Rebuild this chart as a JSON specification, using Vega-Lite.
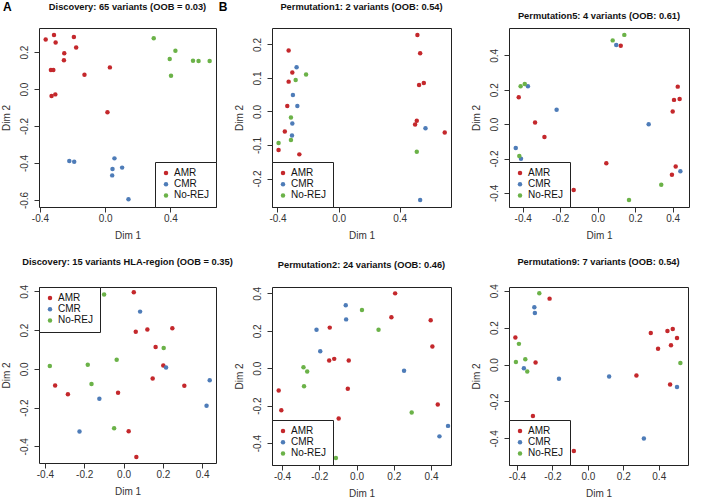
{
  "$schema": "https://vega.github.io/schema/vega-lite/v6.json",
  "autosize": {"type": "pad"},
  "padding": {"left": 0, "top": 0, "right": 0, "bottom": 0},
  "background": "white",
  "datasets": {
    "p1": [
      {"x": -0.365, "y": 0.268, "g": "AMR"}, {"x": -0.314, "y": 0.292, "g": "AMR"}, {"x": -0.304, "y": 0.252, "g": "AMR"},
      {"x": -0.192, "y": 0.281, "g": "AMR"}, {"x": -0.178, "y": 0.225, "g": "AMR"}, {"x": -0.251, "y": 0.193, "g": "AMR"},
      {"x": -0.253, "y": 0.155, "g": "AMR"}, {"x": -0.333, "y": 0.103, "g": "AMR"}, {"x": -0.318, "y": 0.103, "g": "AMR"},
      {"x": -0.127, "y": 0.077, "g": "AMR"}, {"x": 0.029, "y": 0.117, "g": "AMR"}, {"x": -0.329, "y": -0.038, "g": "AMR"},
      {"x": -0.306, "y": -0.029, "g": "AMR"}, {"x": 0.014, "y": -0.126, "g": "AMR"},
      {"x": -0.22, "y": -0.389, "g": "CMR"}, {"x": -0.19, "y": -0.393, "g": "CMR"}, {"x": 0.057, "y": -0.375, "g": "CMR"},
      {"x": 0.045, "y": -0.432, "g": "CMR"}, {"x": 0.104, "y": -0.425, "g": "CMR"}, {"x": 0.043, "y": -0.467, "g": "CMR"},
      {"x": 0.143, "y": -0.596, "g": "CMR"},
      {"x": 0.298, "y": 0.274, "g": "No-REJ"}, {"x": 0.431, "y": 0.207, "g": "No-REJ"}, {"x": 0.396, "y": 0.162, "g": "No-REJ"},
      {"x": 0.404, "y": 0.072, "g": "No-REJ"}, {"x": 0.539, "y": 0.153, "g": "No-REJ"}, {"x": 0.573, "y": 0.151, "g": "No-REJ"},
      {"x": 0.641, "y": 0.151, "g": "No-REJ"}
    ],
    "p2": [
      {"x": -0.327, "y": 0.182, "g": "AMR"}, {"x": -0.303, "y": 0.116, "g": "AMR"}, {"x": -0.327, "y": 0.089, "g": "AMR"},
      {"x": -0.336, "y": 0.016, "g": "AMR"}, {"x": -0.352, "y": -0.06, "g": "AMR"}, {"x": -0.393, "y": -0.115, "g": "AMR"},
      {"x": -0.257, "y": -0.128, "g": "AMR"}, {"x": 0.516, "y": 0.228, "g": "AMR"}, {"x": 0.534, "y": 0.174, "g": "AMR"},
      {"x": 0.527, "y": 0.079, "g": "AMR"}, {"x": 0.558, "y": 0.085, "g": "AMR"}, {"x": 0.512, "y": -0.028, "g": "AMR"},
      {"x": 0.501, "y": -0.039, "g": "AMR"}, {"x": 0.695, "y": -0.063, "g": "AMR"},
      {"x": -0.275, "y": 0.132, "g": "CMR"}, {"x": -0.299, "y": 0.049, "g": "CMR"}, {"x": -0.27, "y": 0.016, "g": "CMR"},
      {"x": -0.303, "y": -0.036, "g": "CMR"}, {"x": -0.305, "y": -0.072, "g": "CMR"}, {"x": 0.569, "y": -0.05, "g": "CMR"},
      {"x": 0.534, "y": -0.264, "g": "CMR"},
      {"x": -0.213, "y": 0.11, "g": "No-REJ"}, {"x": -0.281, "y": 0.094, "g": "No-REJ"}, {"x": -0.312, "y": -0.018, "g": "No-REJ"},
      {"x": -0.312, "y": -0.085, "g": "No-REJ"}, {"x": -0.393, "y": -0.094, "g": "No-REJ"}, {"x": 0.512, "y": -0.12, "g": "No-REJ"}
    ],
    "p3": [
      {"x": 0.123, "y": 0.456, "g": "AMR"}, {"x": -0.421, "y": 0.156, "g": "AMR"}, {"x": -0.334, "y": 0.01, "g": "AMR"},
      {"x": -0.284, "y": -0.075, "g": "AMR"}, {"x": 0.046, "y": -0.228, "g": "AMR"}, {"x": -0.128, "y": -0.383, "g": "AMR"},
      {"x": 0.427, "y": 0.218, "g": "AMR"}, {"x": 0.407, "y": 0.141, "g": "AMR"}, {"x": 0.437, "y": 0.146, "g": "AMR"},
      {"x": 0.4, "y": 0.073, "g": "AMR"}, {"x": 0.416, "y": -0.247, "g": "AMR"}, {"x": 0.396, "y": -0.295, "g": "AMR"},
      {"x": 0.099, "y": 0.46, "g": "CMR"}, {"x": -0.372, "y": 0.22, "g": "CMR"}, {"x": -0.219, "y": 0.084, "g": "CMR"},
      {"x": -0.437, "y": -0.139, "g": "CMR"}, {"x": -0.409, "y": -0.201, "g": "CMR"}, {"x": 0.272, "y": -0.001, "g": "CMR"},
      {"x": 0.441, "y": -0.274, "g": "CMR"},
      {"x": 0.08, "y": 0.487, "g": "No-REJ"}, {"x": 0.142, "y": 0.519, "g": "No-REJ"}, {"x": -0.411, "y": 0.22, "g": "No-REJ"},
      {"x": -0.389, "y": 0.233, "g": "No-REJ"}, {"x": -0.418, "y": -0.185, "g": "No-REJ"}, {"x": 0.339, "y": -0.353, "g": "No-REJ"},
      {"x": 0.167, "y": -0.441, "g": "No-REJ"}
    ],
    "p4": [
      {"x": 0.052, "y": 0.395, "g": "AMR"}, {"x": 0.062, "y": 0.191, "g": "AMR"}, {"x": 0.121, "y": 0.203, "g": "AMR"},
      {"x": 0.248, "y": 0.209, "g": "AMR"}, {"x": 0.163, "y": 0.112, "g": "AMR"}, {"x": 0.202, "y": 0.017, "g": "AMR"},
      {"x": 0.148, "y": -0.05, "g": "AMR"}, {"x": 0.309, "y": -0.088, "g": "AMR"}, {"x": -0.348, "y": -0.086, "g": "AMR"},
      {"x": -0.283, "y": -0.131, "g": "AMR"}, {"x": -0.028, "y": -0.124, "g": "AMR"}, {"x": 0.026, "y": -0.322, "g": "AMR"},
      {"x": 0.065, "y": -0.455, "g": "AMR"},
      {"x": 0.084, "y": 0.295, "g": "CMR"}, {"x": 0.216, "y": 0.007, "g": "CMR"}, {"x": 0.438, "y": -0.059, "g": "CMR"},
      {"x": 0.422, "y": -0.191, "g": "CMR"}, {"x": -0.123, "y": -0.155, "g": "CMR"}, {"x": -0.224, "y": -0.324, "g": "CMR"},
      {"x": -0.099, "y": 0.383, "g": "No-REJ"}, {"x": 0.204, "y": 0.107, "g": "No-REJ"}, {"x": -0.375, "y": 0.014, "g": "No-REJ"},
      {"x": -0.182, "y": 0.021, "g": "No-REJ"}, {"x": -0.035, "y": 0.047, "g": "No-REJ"}, {"x": -0.163, "y": -0.078, "g": "No-REJ"},
      {"x": -0.048, "y": -0.307, "g": "No-REJ"}
    ],
    "p5": [
      {"x": 0.207, "y": 0.4, "g": "AMR"}, {"x": 0.187, "y": 0.272, "g": "AMR"}, {"x": 0.398, "y": 0.256, "g": "AMR"},
      {"x": 0.407, "y": 0.116, "g": "AMR"}, {"x": -0.144, "y": 0.217, "g": "AMR"}, {"x": -0.147, "y": 0.041, "g": "AMR"},
      {"x": -0.12, "y": 0.05, "g": "AMR"}, {"x": -0.042, "y": 0.041, "g": "AMR"}, {"x": -0.047, "y": -0.11, "g": "AMR"},
      {"x": -0.418, "y": -0.119, "g": "AMR"}, {"x": -0.404, "y": -0.224, "g": "AMR"}, {"x": -0.096, "y": -0.268, "g": "AMR"},
      {"x": -0.133, "y": -0.316, "g": "AMR"}, {"x": 0.436, "y": -0.194, "g": "AMR"},
      {"x": -0.058, "y": 0.336, "g": "CMR"}, {"x": -0.056, "y": 0.261, "g": "CMR"}, {"x": -0.215, "y": 0.206, "g": "CMR"},
      {"x": -0.195, "y": 0.091, "g": "CMR"}, {"x": 0.255, "y": -0.014, "g": "CMR"}, {"x": 0.445, "y": -0.364, "g": "CMR"},
      {"x": 0.491, "y": -0.308, "g": "CMR"},
      {"x": 0.029, "y": 0.311, "g": "No-REJ"}, {"x": 0.118, "y": 0.206, "g": "No-REJ"}, {"x": -0.285, "y": 0.005, "g": "No-REJ"},
      {"x": -0.265, "y": -0.018, "g": "No-REJ"}, {"x": -0.282, "y": -0.096, "g": "No-REJ"}, {"x": 0.296, "y": -0.236, "g": "No-REJ"},
      {"x": -0.111, "y": -0.48, "g": "No-REJ"}
    ],
    "p6": [
      {"x": -0.216, "y": 0.357, "g": "AMR"}, {"x": -0.409, "y": 0.146, "g": "AMR"}, {"x": -0.295, "y": 0.011, "g": "AMR"},
      {"x": -0.31, "y": -0.279, "g": "AMR"}, {"x": -0.079, "y": -0.468, "g": "AMR"}, {"x": 0.355, "y": 0.171, "g": "AMR"},
      {"x": 0.396, "y": 0.085, "g": "AMR"}, {"x": 0.449, "y": 0.182, "g": "AMR"}, {"x": 0.479, "y": 0.193, "g": "AMR"},
      {"x": 0.503, "y": 0.144, "g": "AMR"}, {"x": 0.469, "y": 0.104, "g": "AMR"}, {"x": 0.274, "y": -0.059, "g": "AMR"},
      {"x": 0.464, "y": -0.108, "g": "AMR"},
      {"x": -0.302, "y": 0.31, "g": "CMR"}, {"x": -0.299, "y": 0.279, "g": "CMR"}, {"x": -0.361, "y": -0.02, "g": "CMR"},
      {"x": -0.163, "y": -0.077, "g": "CMR"}, {"x": 0.12, "y": -0.065, "g": "CMR"}, {"x": 0.503, "y": -0.121, "g": "CMR"},
      {"x": 0.316, "y": -0.4, "g": "CMR"},
      {"x": -0.274, "y": 0.386, "g": "No-REJ"}, {"x": -0.389, "y": 0.112, "g": "No-REJ"}, {"x": -0.406, "y": 0.014, "g": "No-REJ"},
      {"x": -0.353, "y": 0.029, "g": "No-REJ"}, {"x": -0.342, "y": -0.038, "g": "No-REJ"}, {"x": 0.522, "y": 0.009, "g": "No-REJ"}
    ]
  },
  "resolve": {"scale": {"x": "independent", "y": "independent", "color": "independent"}, "legend": {"color": "independent"}, "axis": {"x": "independent", "y": "independent"}},
  "spacing": -16,
  "hconcat": [
    {
      "vconcat": [
        {
          "width": 177, "height": 179,
          "title": {"text": "Discovery: 65 variants (OOB = 0.03)", "offset": -11.2},
          "data": {"name": "p1"},
          "layer": [
            {
              "mark": {"type": "point", "filled": true, "size": 20, "opacity": 1},
              "encoding": {
                "x": {"field": "x", "type": "quantitative", "scale": {"domain": [-0.406, 0.68], "nice": false, "zero": false}, "axis": {"values": [-0.4, -0.2, 0, 0.2, 0.4, 0.6], "title": "Dim 1"}},
                "y": {"field": "y", "type": "quantitative", "scale": {"domain": [-0.638, 0.33], "nice": false, "zero": false}, "axis": {"values": [-0.6, -0.4, -0.2, 0, 0.2], "title": "Dim 2"}},
                "color": {"field": "g", "type": "nominal", "scale": {"domain": ["AMR", "CMR", "No-REJ"], "range": ["#c4282c", "#4e7cb8", "#6bb248"]}, "legend": {"title": null, "orient": "bottom-right"}}
              }
            },
            {
              "data": {"values": [{"t": "A"}]},
              "mark": {"type": "text", "fontSize": 12, "fontWeight": "bold", "font": "Liberation Sans", "color": "black"},
              "encoding": {"x": {"datum": -0.6, "type": "quantitative"}, "y": {"datum": 0.4457, "type": "quantitative"}, "text": {"field": "t"}}
            }
          ]
        },
        {
          "width": 177, "height": 176,
          "title": {"text": "Discovery: 15 variants HLA-region (OOB = 0.35)", "offset": 17},
          "data": {"name": "p4"},
          "mark": {"type": "point", "filled": true, "size": 20, "opacity": 1},
          "encoding": {
            "x": {"field": "x", "type": "quantitative", "scale": {"domain": [-0.43, 0.47], "nice": false, "zero": false}, "axis": {"values": [-0.4, -0.2, 0, 0.2, 0.4], "title": "Dim 1"}},
            "y": {"field": "y", "type": "quantitative", "scale": {"domain": [-0.486, 0.422], "nice": false, "zero": false}, "axis": {"values": [-0.4, -0.2, 0, 0.2, 0.4], "title": "Dim 2"}},
            "color": {"field": "g", "type": "nominal", "scale": {"domain": ["AMR", "CMR", "No-REJ"], "range": ["#c4282c", "#4e7cb8", "#6bb248"]}, "legend": {"title": null, "orient": "top-left"}}
          }
        }
      ],
      "spacing": 80,
      "bounds": "flush",
      "resolve": {"scale": {"x": "independent", "y": "independent", "color": "independent"}, "legend": {"color": "independent"}, "axis": {"x": "independent", "y": "independent"}}
    },
    {
      "columns": 2,
      "spacing": {"row": 80, "column": 58},
      "bounds": "flush",
      "resolve": {"scale": {"x": "independent", "y": "independent", "color": "independent"}, "legend": {"color": "independent"}, "axis": {"x": "independent", "y": "independent"}},
      "concat": [
        {
          "width": 179, "height": 179,
          "title": {"text": "Permutation1: 2 variants (OOB: 0.54)", "offset": -11.5},
          "data": {"name": "p2"},
          "layer": [
            {
              "mark": {"type": "point", "filled": true, "size": 20, "opacity": 1},
              "encoding": {
                "x": {"field": "x", "type": "quantitative", "scale": {"domain": [-0.436, 0.736], "nice": false, "zero": false}, "axis": {"values": [-0.4, -0.2, 0, 0.2, 0.4, 0.6], "title": "Dim 1"}},
                "y": {"field": "y", "type": "quantitative", "scale": {"domain": [-0.285, 0.249], "nice": false, "zero": false}, "axis": {"values": [-0.2, -0.1, 0, 0.1, 0.2], "title": "Dim 2"}},
                "color": {"field": "g", "type": "nominal", "scale": {"domain": ["AMR", "CMR", "No-REJ"], "range": ["#c4282c", "#4e7cb8", "#6bb248"]}, "legend": {"title": null, "orient": "bottom-left"}}
              }
            },
            {
              "data": {"values": [{"t": "B"}]},
              "mark": {"type": "text", "fontSize": 12, "fontWeight": "bold", "font": "Liberation Sans", "color": "black"},
              "encoding": {"x": {"datum": -0.757, "type": "quantitative"}, "y": {"datum": 0.3125, "type": "quantitative"}, "text": {"field": "t"}}
            }
          ]
        },
        {
          "width": 180, "height": 179,
          "title": {"text": "Permutation5: 4 variants (OOB: 0.61)", "offset": 7},
          "data": {"name": "p3"},
          "mark": {"type": "point", "filled": true, "size": 20, "opacity": 1},
          "encoding": {
            "x": {"field": "x", "type": "quantitative", "scale": {"domain": [-0.473, 0.487], "nice": false, "zero": false}, "axis": {"values": [-0.4, -0.2, 0, 0.2, 0.4], "title": "Dim 1"}},
            "y": {"field": "y", "type": "quantitative", "scale": {"domain": [-0.482, 0.559], "nice": false, "zero": false}, "axis": {"values": [-0.4, -0.2, 0, 0.2, 0.4], "title": "Dim 2"}},
            "color": {"field": "g", "type": "nominal", "scale": {"domain": ["AMR", "CMR", "No-REJ"], "range": ["#c4282c", "#4e7cb8", "#6bb248"]}, "legend": {"title": null, "orient": "bottom-left"}}
          }
        },
        {
          "width": 179, "height": 178,
          "title": {"text": "Permutation2: 24 variants (OOB: 0.46)", "offset": 16},
          "data": {"name": "p5"},
          "mark": {"type": "point", "filled": true, "size": 20, "opacity": 1},
          "encoding": {
            "x": {"field": "x", "type": "quantitative", "scale": {"domain": [-0.454, 0.507], "nice": false, "zero": false}, "axis": {"values": [-0.4, -0.2, 0, 0.2, 0.4], "title": "Dim 1"}},
            "y": {"field": "y", "type": "quantitative", "scale": {"domain": [-0.517, 0.434], "nice": false, "zero": false}, "axis": {"values": [-0.4, -0.2, 0, 0.2, 0.4], "title": "Dim 2"}},
            "color": {"field": "g", "type": "nominal", "scale": {"domain": ["AMR", "CMR", "No-REJ"], "range": ["#c4282c", "#4e7cb8", "#6bb248"]}, "legend": {"title": null, "orient": "bottom-left"}}
          }
        },
        {
          "width": 179, "height": 178,
          "title": {"text": "Permutation9: 7 variants (OOB: 0.54)", "offset": 16},
          "data": {"name": "p6"},
          "mark": {"type": "point", "filled": true, "size": 20, "opacity": 1},
          "encoding": {
            "x": {"field": "x", "type": "quantitative", "scale": {"domain": [-0.445, 0.565], "nice": false, "zero": false}, "axis": {"values": [-0.4, -0.2, 0, 0.2, 0.4], "title": "Dim 1"}},
            "y": {"field": "y", "type": "quantitative", "scale": {"domain": [-0.544, 0.42], "nice": false, "zero": false}, "axis": {"values": [-0.4, -0.2, 0, 0.2, 0.4], "title": "Dim 2"}},
            "color": {"field": "g", "type": "nominal", "scale": {"domain": ["AMR", "CMR", "No-REJ"], "range": ["#c4282c", "#4e7cb8", "#6bb248"]}, "legend": {"title": null, "orient": "bottom-left"}}
          }
        }
      ]
    }
  ],
  "config": {
    "font": "Liberation Sans",
    "view": {"stroke": "#222222", "strokeWidth": 1},
    "axis": {
      "domain": false, "grid": false, "tickColor": "#333333", "tickSize": 5, "ticks": true,
      "labelFont": "Liberation Sans", "labelFontSize": 10, "labelColor": "#333333",
      "titleFont": "Liberation Sans", "titleFontSize": 10, "titleFontWeight": "normal", "titleColor": "#333333",
      "labelFlush": false, "labelOverlap": false,
      "labelExpr": "replace(format(datum.value, '.1f'), '\u2212', '-')"
    },
    "axisX": {"labelPadding": 1, "titlePadding": 7},
    "axisY": {"labelAngle": -90, "labelPadding": 5, "titlePadding": 8},
    "title": {"fontSize": 9.3, "fontWeight": "bold", "frame": "group", "color": "#111111", "font": "Liberation Sans"},
    "legend": {
      "offset": 0, "strokeColor": "#222222", "fillColor": "white", "padding": 6,
      "labelFontSize": 10, "labelFont": "Liberation Sans", "labelColor": "#111111",
      "symbolSize": 20, "symbolType": "circle", "symbolStrokeWidth": 0,
      "rowPadding": 1.2, "labelOffset": 3
    }
  }
}
